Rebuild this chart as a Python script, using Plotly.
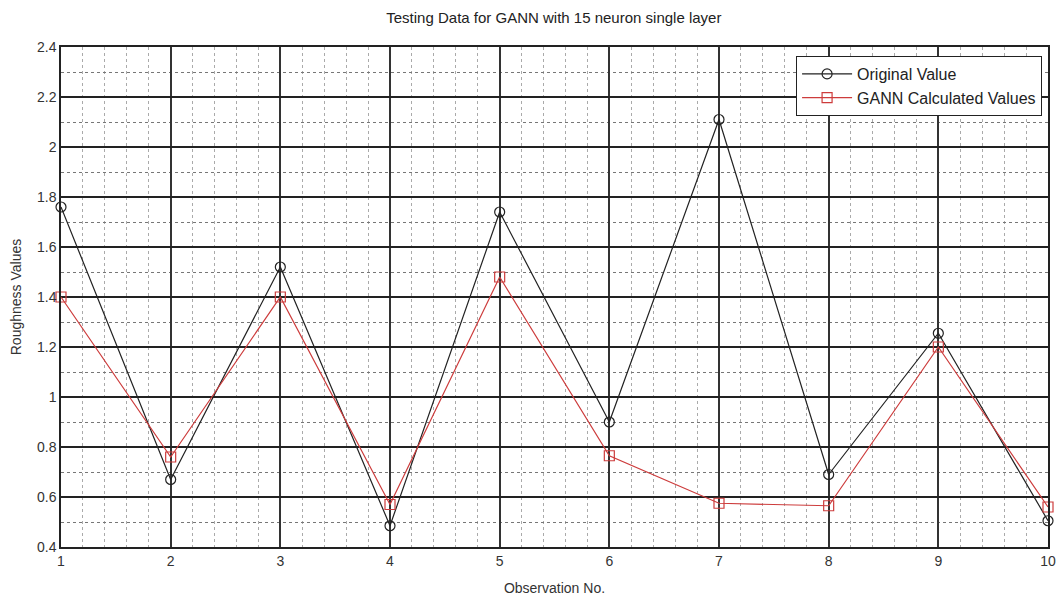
import plotly.graph_objects as go

observations = [1, 2, 3, 4, 5, 6, 7, 8, 9, 10]
original_values = [1.76, 0.67, 1.52, 0.485, 1.74, 0.90, 2.11, 0.69, 1.255, 0.505]
gann_values = [1.40, 0.76, 1.40, 0.57, 1.48, 0.765, 0.575, 0.565, 1.20, 0.56]

FONT = "Liberation Sans Narrow, Arial Narrow, Liberation Sans, sans-serif"

fig = go.Figure()
fig.add_trace(go.Scatter(
    x=observations, y=original_values, mode="lines+markers",
    name="Original Value",
    line=dict(color="#222222", width=1.2),
    marker=dict(symbol="circle-open", size=10, color="#222222", line=dict(width=1.2)),
    cliponaxis=False,
))
fig.add_trace(go.Scatter(
    x=observations, y=gann_values, mode="lines+markers",
    name="GANN Calculated Values",
    line=dict(color="rgb(205,60,60)", width=1.2),
    marker=dict(symbol="square-open", size=10, color="rgb(205,60,60)", line=dict(width=1.2)),
    cliponaxis=False,
))

fig.update_layout(
    width=1059, height=599,
    margin=dict(l=61, r=11, t=47, b=52, autoexpand=False),
    paper_bgcolor="white", plot_bgcolor="white",
    font=dict(family=FONT, size=14, color="#333333"),
    title=dict(text="Testing Data for GANN with 15 neuron single layer",
               x=0.523, xanchor="center", y=0.97, yanchor="middle",
               font=dict(family=FONT, size=15, color="#222222")),
    legend=dict(x=0.994, y=0.982, xanchor="right", yanchor="top",
                bgcolor="white", bordercolor="#222222", borderwidth=1,
                font=dict(family=FONT, size=16, color="#222222"),
                itemwidth=50),
    showlegend=True,
)

fig.update_xaxes(
    range=[1, 10], dtick=1, tick0=1, automargin=False,
    showgrid=True, gridcolor="#333333", gridwidth=1.5,
    minor=dict(dtick=0.2, tick0=1, showgrid=True, gridcolor="#aaaaaa", griddash="dot", gridwidth=1),
    showline=True, linecolor="#222222", linewidth=1.5, mirror=True,
    ticks="", zeroline=False,
    title=dict(text="Observation No.", standoff=16, font=dict(family=FONT, size=14, color="#333333")),
)
fig.update_yaxes(
    range=[0.4, 2.4], dtick=0.2, tick0=0.4, automargin=False,
    showgrid=True, gridcolor="#222222", gridwidth=1.5,
    minor=dict(dtick=0.1, showgrid=True, gridcolor="#777777", griddash="dot", gridwidth=1),
    showline=True, linecolor="#222222", linewidth=1.5, mirror=True,
    ticks="", zeroline=False,
    title=dict(text="Roughness Values", standoff=12, font=dict(family=FONT, size=14, color="#333333")),
)

fig.write_html("out.html", config={"displayModeBar": False},
               post_script="document.body.style.margin='0';document.body.style.padding='0';")
